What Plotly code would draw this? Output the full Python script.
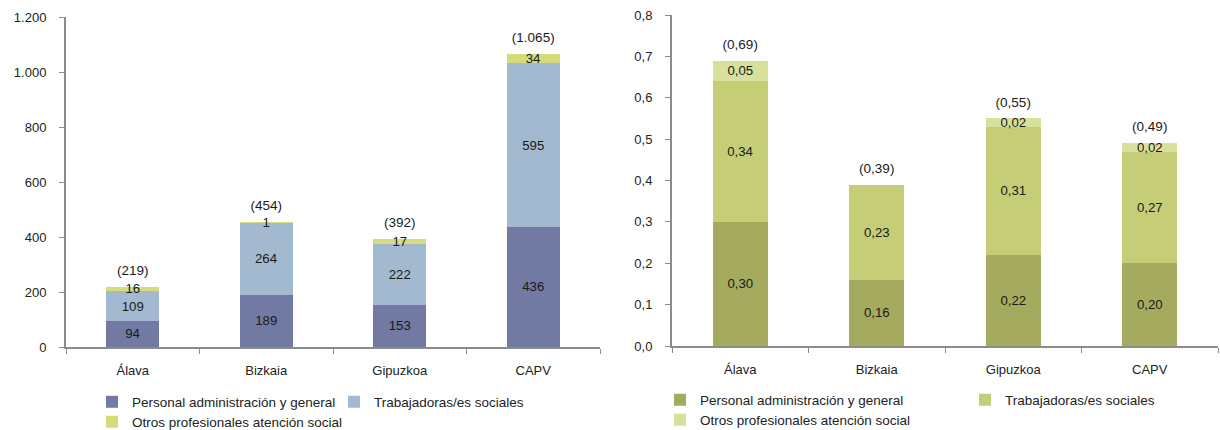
import plotly.graph_objects as go

# Data
territorios = ['Álava', 'Bizkaia', 'Gipuzkoa', 'CAPV']
series = ['Personal administración y general', 'Trabajadoras/es sociales',
          'Otros profesionales atención social']

# Left chart: number of professionals
personal_n = [94, 189, 153, 436]
trabajadoras_n = [109, 264, 222, 595]
otros_n = [16, 1, 17, 34]
totales_n = ['(219)', '(454)', '(392)', '(1.065)']

# Right chart: ratio per 1,000 inhabitants
personal_r = [0.30, 0.16, 0.22, 0.20]
trabajadoras_r = [0.34, 0.23, 0.31, 0.27]
otros_r = [0.05, 0.00, 0.02, 0.02]
totales_r = ['(0,69)', '(0,39)', '(0,55)', '(0,49)']

colors_left = ['#7279A2', '#A3B9CF', '#D6DC7C']
colors_right = ['#A4AA5E', '#C5CD77', '#D8E19C']

FONT = 'Liberation Sans'
TXT = '#1a1a1a'

fig = go.Figure()


def fmt_int(v):
    return f'{v:,}'.replace(',', '.')


def fmt_dec(v):
    return f'{v:.2f}'.replace('.', ',')


def add_chart(vals, totals, colors, xa, ya, fmt, legends):
    for i, (name, v) in enumerate(zip(series, vals)):
        fig.add_trace(go.Bar(
            x=territorios, y=v, name=name, xaxis=xa, yaxis=ya,
            marker=dict(color=colors[i], line=dict(width=0)),
            text=[fmt(a) for a in v], textposition='inside', textangle=0,
            insidetextanchor='middle',
            insidetextfont=dict(color=TXT, size=13.5, family=FONT),
            legend=legends[i], hoverinfo='skip'))
    tops = [sum(t) for t in zip(*vals)]
    fig.add_trace(go.Scatter(
        x=territorios, y=tops, mode='markers+text', text=totals,
        marker=dict(size=12, color='rgba(0,0,0,0)'),
        textposition='top center', textfont=dict(color=TXT, size=13.5, family=FONT),
        xaxis=xa, yaxis=ya, showlegend=False, hoverinfo='skip'))


add_chart([personal_n, trabajadoras_n, otros_n], totales_n, colors_left,
          'x', 'y', fmt_int, ['legend', 'legend2', 'legend3'])
add_chart([personal_r, trabajadoras_r, otros_r], totales_r, colors_right,
          'x2', 'y2', fmt_dec, ['legend4', 'legend5', 'legend6'])

axis_common = dict(showline=True, linecolor='#8c8c8c', linewidth=2,
                   showgrid=False, zeroline=False, automargin=False,
                   tickfont=dict(size=13, color='#222', family=FONT),
                   ticks='outside', ticklen=5, tickcolor='#8c8c8c', tickwidth=1)

legend_common = dict(orientation='h', font=dict(size=13.5, color='#222', family=FONT),
                     bgcolor='rgba(0,0,0,0)', itemwidth=30,
                     xanchor='left', yanchor='middle', itemclick=False)

# legend item positions (pixels), row centre
leg_pos = [(92, 402), (334, 402), (92, 422), (660, 400), (965, 400), (660, 420)]

fig.update_layout(
    width=1220, height=430,
    margin=dict(l=0, r=0, t=0, b=0, autoexpand=False),
    paper_bgcolor='white', plot_bgcolor='white',
    barmode='stack', bargap=0.6,
    separators=',.',
    font=dict(family=FONT),
    uniformtext=dict(minsize=13, mode='show'),
    xaxis=dict(domain=[66 / 1220, 600 / 1220], anchor='y', tickson='boundaries',
               ticklabelstandoff=10, **axis_common),
    yaxis=dict(domain=[1 - 347 / 430, 1 - 17 / 430], anchor='x', range=[0, 1200],
               dtick=200, tickformat=',d', ticklabelstandoff=10, **axis_common),
    xaxis2=dict(domain=[672 / 1220, 1218 / 1220], anchor='y2', tickson='boundaries',
                ticklabelstandoff=10, **axis_common),
    yaxis2=dict(domain=[1 - 346 / 430, 1 - 15 / 430], anchor='x2', range=[0, 0.8],
                dtick=0.1, tickformat='.1f', ticklabelstandoff=10, **axis_common),
)

for k, (px, py) in enumerate(leg_pos):
    key = 'legend' if k == 0 else f'legend{k + 1}'
    fig.update_layout({key: dict(x=px / 1220, y=1 - py / 430, **legend_common)})

# page body has a default 8px margin; remove it so the figure fills the window
fig.write_html('out.html', config={'displayModeBar': False},
               post_script="document.body.style.margin='0';")
